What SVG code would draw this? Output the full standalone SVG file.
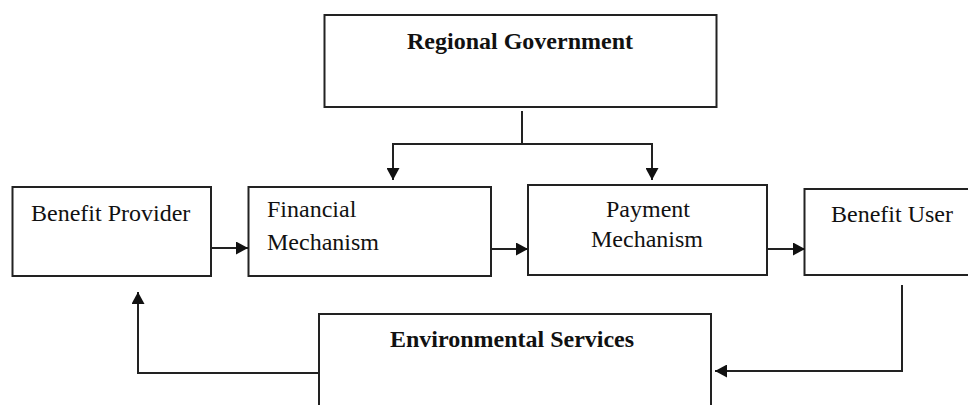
<svg xmlns="http://www.w3.org/2000/svg" width="968" height="405" viewBox="0 0 968 405">
<style>
.box{fill:#fff;stroke:#222;stroke-width:2}
.t{font-family:"Liberation Serif","Times New Roman",serif;font-size:24px;fill:#111}
.b{font-weight:bold}
.c{fill:none;stroke:#222;stroke-width:2}
</style>
<defs>
<marker id="ah" markerUnits="userSpaceOnUse" markerWidth="13" markerHeight="13" viewBox="0 0 13 13" refX="12" refY="6.5" orient="auto">
<path d="M0,0 L12,6.5 L0,13 Z" fill="#111"/>
</marker>
</defs>
<rect width="968" height="405" fill="#fff"/>
<g id="regional-government">
<rect class="box" x="324.5" y="15" width="392" height="92"/>
<text class="t b" x="520" y="49" text-anchor="middle">Regional Government</text>
</g>
<g id="benefit-provider">
<rect class="box" x="12.5" y="187" width="198.5" height="89"/>
<text class="t" x="31" y="221">Benefit Provider</text>
</g>
<g id="financial-mechanism">
<rect class="box" x="248.5" y="187" width="242.5" height="89"/>
<text class="t" x="267" y="217">Financial</text>
<text class="t" x="267" y="250">Mechanism</text>
</g>
<g id="payment-mechanism">
<rect class="box" x="528" y="185" width="239" height="90"/>
<text class="t" x="648" y="217" text-anchor="middle">Payment</text>
<text class="t" x="647" y="247" text-anchor="middle">Mechanism</text>
</g>
<g id="benefit-user">
<rect class="box" x="804.5" y="189" width="180" height="86"/>
<text class="t" x="831" y="222">Benefit User</text>
</g>
<g id="environmental-services">
<rect class="box" x="319" y="314" width="392" height="100"/>
<text class="t b" x="512" y="347" text-anchor="middle">Environmental Services</text>
</g>
<g id="connectors">
<path class="c" d="M522,111 V144"/>
<path class="c" d="M393,144 H652"/>
<path class="c" d="M393,143 V180" marker-end="url(#ah)"/>
<path class="c" d="M652,143 V180" marker-end="url(#ah)"/>
<path class="c" d="M211,248 H248" marker-end="url(#ah)"/>
<path class="c" d="M491,249 H528" marker-end="url(#ah)"/>
<path class="c" d="M767,249 H805" marker-end="url(#ah)"/>
<path class="c" d="M902,285 V371 H715" marker-end="url(#ah)"/>
<path class="c" d="M319,373 H138 V292" marker-end="url(#ah)"/>
</g>
</svg>
